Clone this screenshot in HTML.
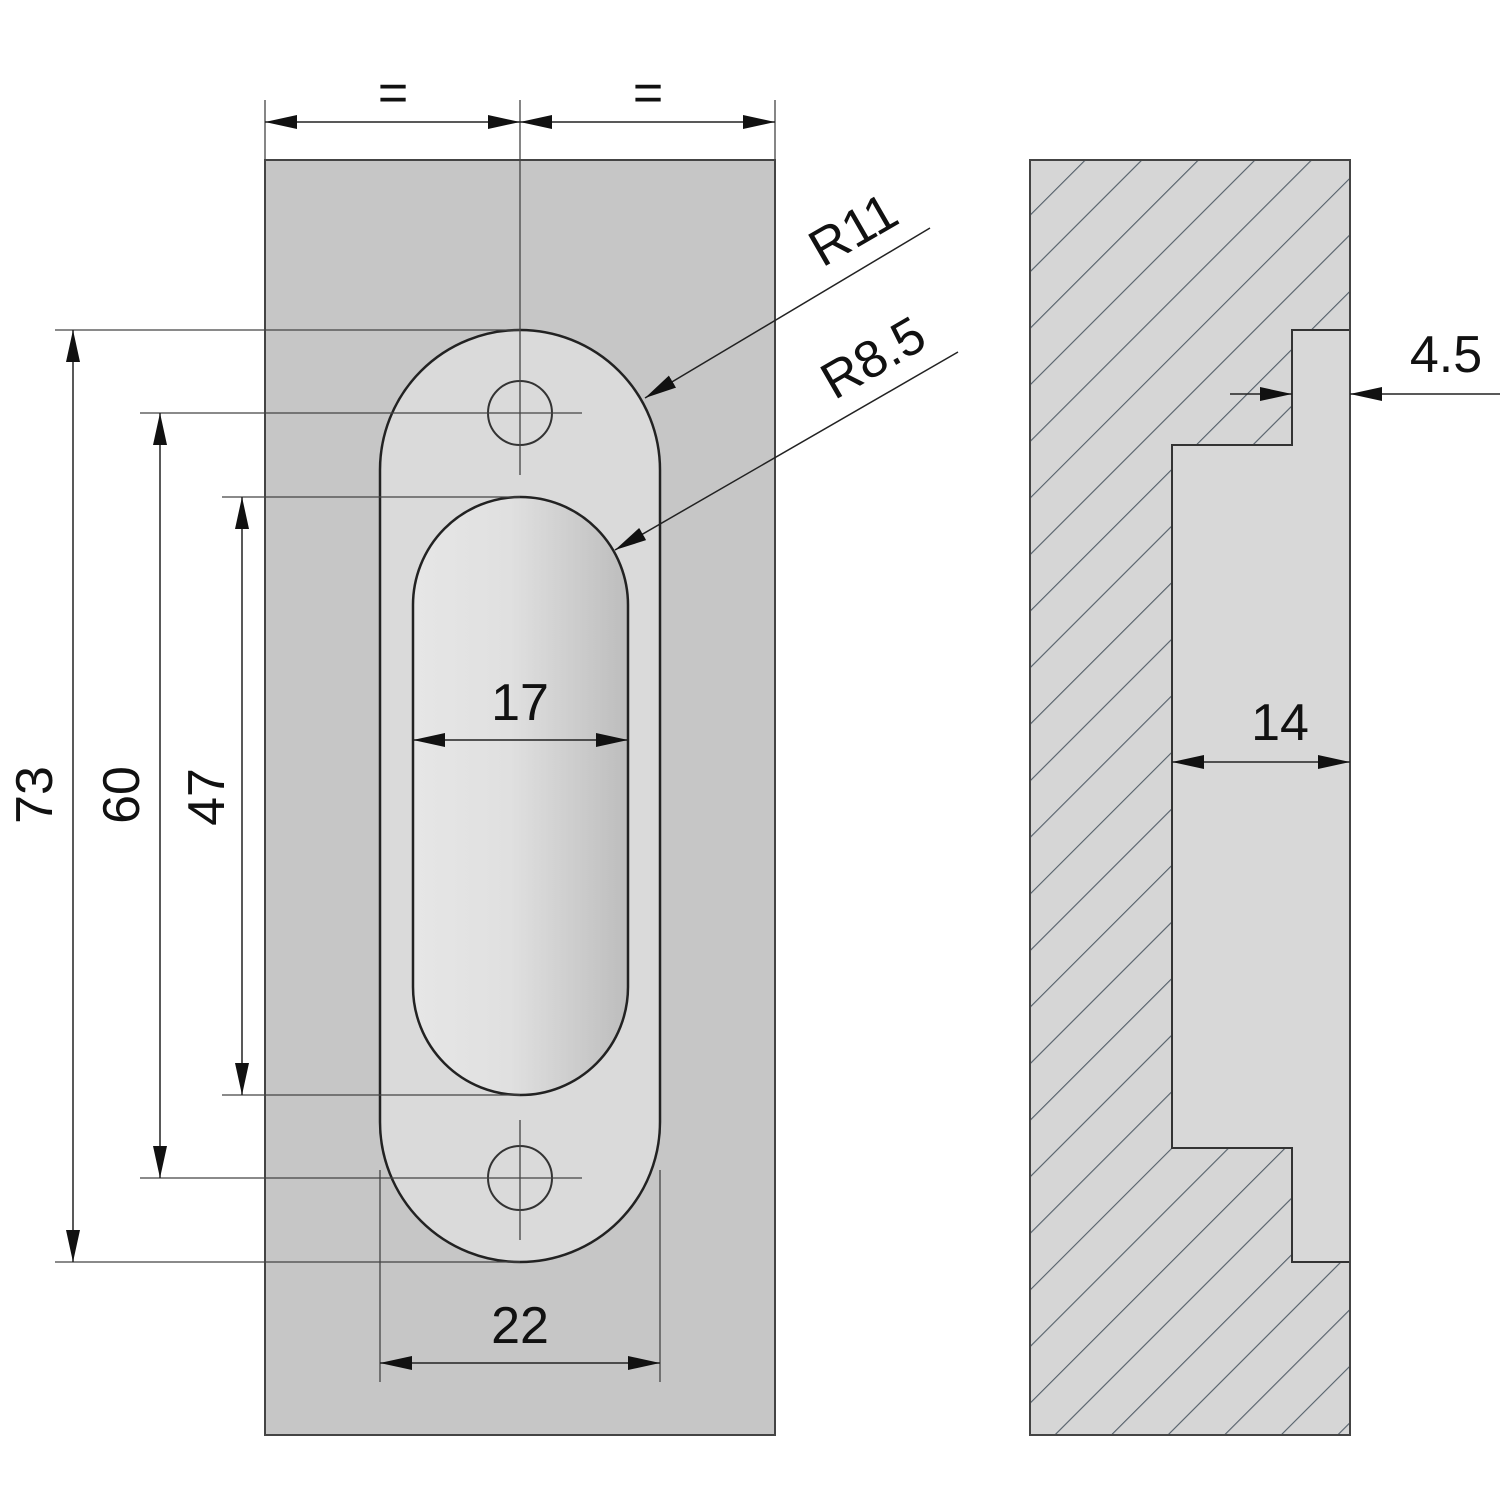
<!DOCTYPE html>
<html><head><meta charset="utf-8"><style>html,body{margin:0;padding:0;background:#fff}</style></head>
<body>
<svg width="1500" height="1500" viewBox="0 0 1500 1500" xmlns="http://www.w3.org/2000/svg" font-family="Liberation Sans, sans-serif">
<defs>
<marker id="a" viewBox="0 0 32 14" refX="32" refY="7" markerWidth="32" markerHeight="14" markerUnits="userSpaceOnUse" orient="auto-start-reverse"><path d="M0,0 L32,7 L0,14 Z" fill="#111"/></marker>
<linearGradient id="g" x1="0" x2="1" y1="0" y2="0"><stop offset="0" stop-color="#e6e6e6"/><stop offset="0.45" stop-color="#e0e0e0"/><stop offset="1" stop-color="#bdbdbd"/></linearGradient>
<pattern id="h" width="40" height="40" patternUnits="userSpaceOnUse" patternTransform="rotate(-45)"><rect width="40" height="40" fill="#d6d6d6"/><line x1="0" y1="0" x2="40" y2="0" stroke="#55606a" stroke-width="2.2"/></pattern>
</defs>
<!-- front plate -->
<rect x="265" y="160" width="510" height="1275" fill="#c6c6c6" stroke="#444" stroke-width="2"/>
<rect x="380" y="330" width="280" height="932" rx="140" ry="140" fill="#dadada" stroke="#222" stroke-width="2.5"/>
<rect x="413" y="497" width="215" height="598" rx="108" ry="108" fill="url(#g)" stroke="#222" stroke-width="2.5"/>
<circle cx="520" cy="413" r="32" fill="none" stroke="#333" stroke-width="2"/>
<circle cx="520" cy="1178" r="32" fill="none" stroke="#333" stroke-width="2"/>
<g stroke="#444" stroke-width="1.3" fill="none">
<line x1="520" y1="100" x2="520" y2="475"/>
<line x1="520" y1="1120" x2="520" y2="1240"/>
<line x1="140" y1="413" x2="582" y2="413"/>
<line x1="140" y1="1178" x2="582" y2="1178"/>
<line x1="55" y1="330" x2="520" y2="330"/>
<line x1="55" y1="1262" x2="520" y2="1262"/>
<line x1="222" y1="497" x2="520" y2="497"/>
<line x1="222" y1="1095" x2="520" y2="1095"/>
<line x1="265" y1="100" x2="265" y2="160"/>
<line x1="775" y1="100" x2="775" y2="160"/>
<line x1="380" y1="1170" x2="380" y2="1382"/>
<line x1="660" y1="1170" x2="660" y2="1382"/>
</g>
<g stroke="#222" stroke-width="1.5" fill="none">
<line x1="265" y1="122" x2="520" y2="122" marker-start="url(#a)" marker-end="url(#a)"/>
<line x1="520" y1="122" x2="775" y2="122" marker-start="url(#a)" marker-end="url(#a)"/>
<line x1="73" y1="330" x2="73" y2="1262" marker-start="url(#a)" marker-end="url(#a)"/>
<line x1="160" y1="413" x2="160" y2="1178" marker-start="url(#a)" marker-end="url(#a)"/>
<line x1="242" y1="497" x2="242" y2="1095" marker-start="url(#a)" marker-end="url(#a)"/>
<line x1="413" y1="740" x2="628" y2="740" marker-start="url(#a)" marker-end="url(#a)"/>
<line x1="380" y1="1363" x2="660" y2="1363" marker-start="url(#a)" marker-end="url(#a)"/>
<line x1="930" y1="228" x2="645" y2="398" marker-end="url(#a)"/>
<line x1="958" y1="352" x2="615" y2="550" marker-end="url(#a)"/>
</g>
<!-- side view -->
<rect x="1030" y="160" width="320" height="1275" fill="url(#h)"/>
<path d="M1350,330 L1292,330 L1292,445 L1172,445 L1172,1148 L1292,1148 L1292,1262 L1350,1262 Z" fill="#d8d8d8" stroke="#333" stroke-width="2"/>
<rect x="1030" y="160" width="320" height="1275" fill="none" stroke="#444" stroke-width="2"/>
<g stroke="#222" stroke-width="1.5" fill="none">
<line x1="1172" y1="762" x2="1350" y2="762" marker-start="url(#a)" marker-end="url(#a)"/>
<line x1="1230" y1="394" x2="1292" y2="394" marker-end="url(#a)"/>
<line x1="1500" y1="394" x2="1350" y2="394" marker-end="url(#a)"/>
</g>
<g font-size="52" fill="#111" text-anchor="middle">
<text x="393" y="110">=</text>
<text x="648" y="110">=</text>
<text x="520" y="720">17</text>
<text x="520" y="1343">22</text>
<text transform="translate(52,795) rotate(-90)">73</text>
<text transform="translate(139,795) rotate(-90)">60</text>
<text transform="translate(224,797) rotate(-90)">47</text>
<text transform="translate(862,245) rotate(-30)">R11</text>
<text transform="translate(882,373) rotate(-30)">R8.5</text>
<text x="1280" y="740">14</text>
<text x="1446" y="372">4.5</text>
</g>
</svg>
</body></html>
